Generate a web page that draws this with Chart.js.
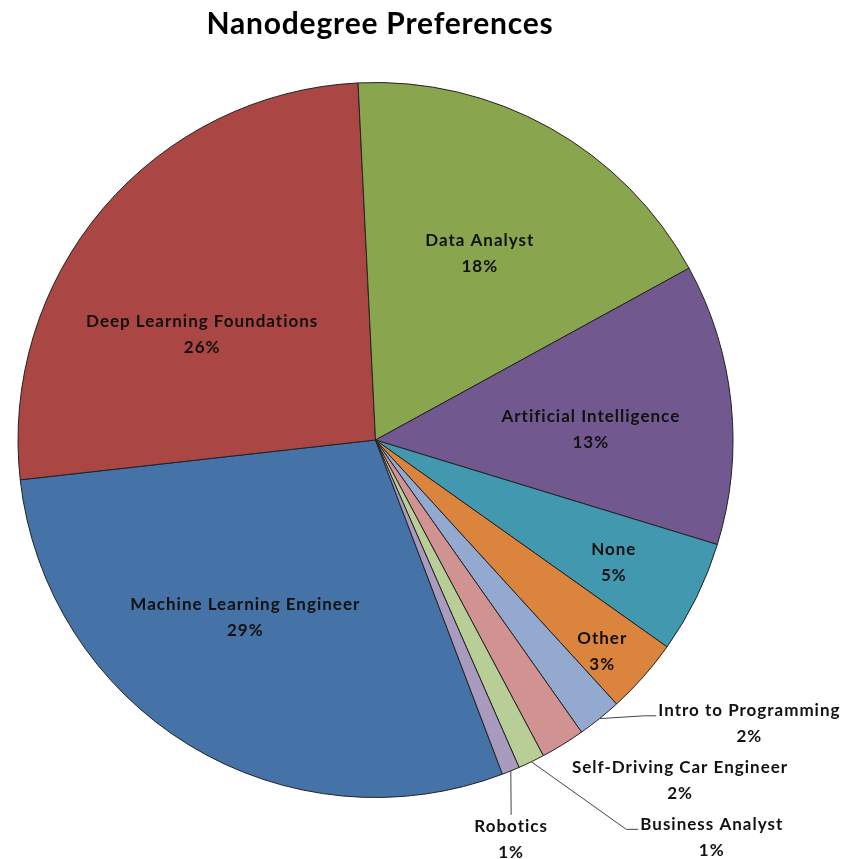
<!DOCTYPE html>
<html>
<head>
<meta charset="utf-8">
<script src="https://cdn.jsdelivr.net/npm/chart.js@4.4.1/dist/chart.umd.min.js"></script>
<style>
  body { margin: 0; background: #fff; }
  #wrap { width: 857px; height: 859px; }
</style>
</head>
<body>
<div id="wrap"><canvas id="pie" width="857" height="859"></canvas></div>
<script>
// data, in the order the slices are drawn (clockwise from the Machine Learning slice)
const categories = [
  'Machine Learning Engineer', 'Deep Learning Foundations', 'Data Analyst',
  'Artificial Intelligence', 'None', 'Other', 'Intro to Programming',
  'Self-Driving Car Engineer', 'Business Analyst', 'Robotics'
];
const shares = [29.0, 26.0, 17.8, 12.7, 5.1, 3.4, 2.0, 2.0, 1.2, 0.8];
const sliceColors = [
  '#4572A7', '#AA4643', '#89A54E', '#71588F', '#4198AF',
  '#DB843D', '#93A9CF', '#D19392', '#B9CD96', '#A99BBD'
];
const chartTitle = 'Nanodegree Preferences';

// where each label sits: fraction of radius, shift from mid angle (deg), leader style
const labelSpots = [
  { r: 0.615, shift: 4.9 },
  { r: 0.568, shift: -9.0 },
  { r: 0.597, shift: 0 },
  { r: 0.603, shift: 3.2 },
  { r: 0.75, shift: 1.1 },
  { r: 0.867, shift: 1.5 },
  { r: 1.313, shift: -14, leader: 'side' },
  { r: 1.278, shift: -10.2 },
  { r: 1.456, shift: -14.4, leader: 'side' },
  { r: 1.181, shift: 3.5, leader: 'down' }
];

const FONT = 'Lato, "Open Sans", sans-serif';
const LINE_GAP = 26;

const sliceLabels = {
  id: 'sliceLabels',
  afterDatasetsDraw(chart) {
    const ctx = chart.ctx;
    const meta = chart.getDatasetMeta(0);
    const total = shares.reduce((a, b) => a + b, 0);
    ctx.save();
    ctx.font = 'bold 17px ' + FONT;
    ctx.letterSpacing = '1px';
    ctx.textAlign = 'center';
    ctx.textBaseline = 'middle';
    meta.data.forEach((arc, i) => {
      const p = arc.getProps(['x', 'y', 'startAngle', 'endAngle', 'outerRadius'], true);
      const spot = labelSpots[i];
      const mid = (p.startAngle + p.endAngle) / 2;
      const a = mid + spot.shift * Math.PI / 180;
      const lx = p.x + Math.cos(a) * p.outerRadius * spot.r;
      const ly = p.y + Math.sin(a) * p.outerRadius * spot.r;
      const y1 = ly - LINE_GAP / 2;
      const y2 = ly + LINE_GAP / 2;
      const pct = Math.round(shares[i] / total * 100) + '%';

      if (spot.leader) {
        const ex = p.x + Math.cos(mid) * p.outerRadius;
        const ey = p.y + Math.sin(mid) * p.outerRadius;
        ctx.beginPath();
        ctx.strokeStyle = '#444';
        ctx.lineWidth = 1;
        ctx.moveTo(ex, ey);
        if (spot.leader === 'side') {
          const left = lx - ctx.measureText(categories[i]).width / 2;
          ctx.lineTo(left - 14, y1 + 5);
          ctx.lineTo(left - 2, y1 + 5);
        } else {
          ctx.lineTo(lx, y1 - 12);
        }
        ctx.stroke();
      }

      ctx.fillStyle = '#111';
      ctx.fillText(categories[i], lx, y1);
      ctx.fillText(pct, lx, y2);
    });

    // title
    ctx.font = 'bold 30px ' + FONT;
    ctx.letterSpacing = '0.8px';
    ctx.fillStyle = '#000';
    ctx.fillText(chartTitle, 380, 24);
    ctx.restore();
  }
};

function draw() {
  new Chart(document.getElementById('pie'), {
    type: 'pie',
    data: {
      labels: categories,
      datasets: [{
        data: shares,
        backgroundColor: sliceColors,
        borderColor: '#222',
        borderWidth: 1
      }]
    },
    options: {
      responsive: false,
      animation: false,
      rotation: 159.2,
      layout: { padding: { left: 17.5, right: 123.5, top: 82, bottom: 61 } },
      plugins: {
        legend: { display: false },
        tooltip: { enabled: false },
        title: { display: false }
      }
    },
    plugins: [sliceLabels]
  });
}

document.fonts.load('bold 16px Lato').then(draw, draw);
</script>
</body>
</html>
